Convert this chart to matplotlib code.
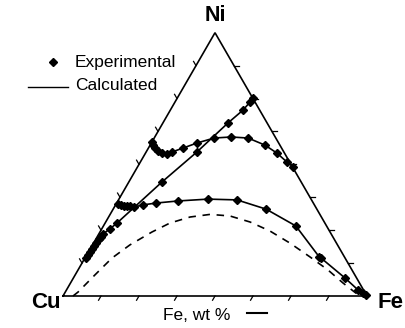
import numpy as np
import matplotlib.pyplot as plt

plt.rcParams['font.family'] = ['Liberation Sans', 'DejaVu Sans']

# Cu-Ni-Fe section, compositions in wt% (Cu is the balance)
# upper curve with the hook near the Cu-Ni side
fe_a = [0.0, 0.9, 2.2, 3.7, 5.4, 7.2, 8.5, 11.4, 15.0, 19.7, 25.1, 30.9, 37.8, 43.2, 48.2, 51.2]
ni_a = [58.5, 57.3, 56.2, 55.1, 54.3, 54.1, 54.7, 56.2, 58.1, 60.0, 60.4, 60.0, 57.3, 54.3, 50.9, 49.0]

# diagonal curve running up to the Fe-Ni side
fe_b = [0.4, 0.4, 0.5, 0.6, 0.7, 0.8, 1.0, 1.2, 1.4, 2.7, 3.9, 10.9, 16.7, 21.4, 23.9, 24.7, 24.9]
ni_b = [14.4, 15.6, 16.7, 17.9, 19.0, 20.2, 21.6, 22.6, 23.6, 25.5, 27.7, 43.3, 54.7, 65.7, 70.6, 73.7, 75.1]

# lower curve, Cu-Ni side to the Fe corner
fe_c = [0.6, 1.8, 3.0, 4.0, 4.9, 6.5, 9.0, 12.9, 19.8, 29.3, 39.0, 50.3, 63.3, 76.8, 77.7, 89.4, 95.9, 98.0, 99.5]
ni_c = [34.9, 34.6, 34.2, 34.2, 34.2, 33.8, 34.6, 35.3, 36.1, 36.8, 36.5, 33.0, 26.6, 14.9, 14.4, 6.8, 2.3, 1.2, 0.4]

# calculated boundary
fe_calc = [3.3, 4.2, 6.5, 8.9, 12.3, 17.1, 21.3, 26.8, 32.9, 39.7, 47.5, 55.7, 64.6, 73.9, 82.2, 89.7, 95.8, 98.4]
ni_calc = [0.0, 1.5, 8.0, 14.4, 19.4, 24.3, 27.7, 30.0, 31.0, 30.4, 28.1, 24.7, 20.1, 14.8, 9.9, 4.9, 1.1, 0.0]

n_div = 8


def tern(fe, ni):
    # wt% -> cartesian, Cu at (0,0), Fe at (1,0), Ni at top
    fe = np.asarray(fe, dtype=float) / 100.0
    ni = np.asarray(ni, dtype=float) / 100.0
    return fe + ni / 2.0, ni * np.sqrt(3) / 2.0


h = np.sqrt(3) / 2.0
fig = plt.figure(figsize=(4.05, 3.28), dpi=100)
ax = fig.add_axes([0, 0, 1, 1])
ax.set_xlim(-63 / 304, 342 / 304)
ax.set_ylim(-32 / 304, 296 / 304)
ax.axis('off')

# triangle
ax.plot([0, 1, 0.5, 0], [0, 0, h, 0], color='black', lw=1.2, solid_joinstyle='miter')

# ticks, each one parallel to the next side
tl = 0.016
for t in np.arange(1, n_div) / n_div:
    # Cu-Fe base
    ax.plot([t, t - tl * 0.5], [0, -tl * h], color='black', lw=0.9)
    # Fe-Ni side
    x0, y0 = 1 - t / 2, t * h
    ax.plot([x0, x0 + tl], [y0, y0], color='black', lw=0.9)
    # Ni-Cu side
    x0, y0 = 0.5 - t / 2, h - t * h
    ax.plot([x0, x0 - tl * 0.5], [y0, y0 + tl * h], color='black', lw=0.9)

# calculated line
x, y = tern(fe_calc, ni_calc)
ax.plot(x, y, color='black', lw=1.2, linestyle=(0, (4.5, 4)))

# experimental curves
for fe, ni in [(fe_a, ni_a), (fe_b, ni_b), (fe_c, ni_c)]:
    x, y = tern(fe, ni)
    ax.plot(x, y, color='black', lw=1.2, marker='D', ms=3.9,
            markerfacecolor='black', markeredgecolor='black')

# corner labels
ax.text(0.5, h + 0.057, 'Ni', ha='center', va='center', fontsize=15.5, fontweight='bold')
ax.text(-0.008, -0.022, 'Cu', ha='right', va='center', fontsize=16, fontweight='bold')
ax.text(1.035, -0.022, 'Fe', ha='left', va='center', fontsize=16, fontweight='bold')
ax.text(0.441, -0.063, 'Fe, wt %', ha='center', va='center', fontsize=12.5)
ax.plot([0.605, 0.671], [-0.057, -0.057], color='black', lw=1.5)

# legend
ax.plot([-0.033], [0.770], marker='D', ms=3.9, color='black', linestyle='none')
ax.plot([-0.115, 0.016], [0.688, 0.688], color='black', lw=1.0)
ax.text(0.039, 0.768, 'Experimental', ha='left', va='center', fontsize=12.5)
ax.text(0.039, 0.692, 'Calculated', ha='left', va='center', fontsize=12.5)

fig.savefig('out.png', dpi=100, facecolor='white')
